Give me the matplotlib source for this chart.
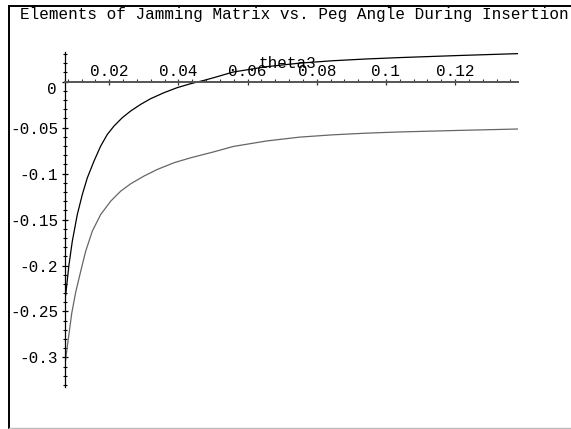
import matplotlib
matplotlib.use('Agg')
from matplotlib import pyplot as plt
from matplotlib.lines import Line2D
from matplotlib.ticker import MultipleLocator, FixedLocator, FixedFormatter

# Values.
theta_upper: list[float] = [0.00705, 0.00740, 0.00835, 0.00931, 0.01075, 0.01220, 0.01365,
                            0.01558, 0.01752, 0.01943, 0.02136, 0.02376, 0.02619, 0.02908,
                            0.03197, 0.03582, 0.03966, 0.04354, 0.04738, 0.05028, 0.05585,
                            0.06551, 0.07514, 0.08476, 0.09442, 0.10405, 0.12140, 0.13825]
elem_upper: list[float] = [-0.2386, -0.2317, -0.1990, -0.1735, -0.1446, -0.1228, -0.1046,
                           -0.0864, -0.0700, -0.0574, -0.0483, -0.0392, -0.0319, -0.0247,
                           -0.0185, -0.0120, -0.0065, -0.0022, 0.0014, 0.0044, 0.0105,
                           0.0163, 0.0202, 0.0228, 0.0247, 0.0262, 0.0285, 0.0305]

theta_lower: list[float] = [0.00705, 0.00711, 0.00786, 0.00914, 0.01029, 0.01174, 0.01318,
                            0.01509, 0.01752, 0.02041, 0.02330, 0.02619, 0.03004, 0.03388,
                            0.03871, 0.04354, 0.05028, 0.05585, 0.06551, 0.07514, 0.08476,
                            0.09442, 0.10405, 0.12140, 0.13825]
elem_lower: list[float] = [-0.3181, -0.3101, -0.2883, -0.2520, -0.2290, -0.2062, -0.1844,
                           -0.1626, -0.1445, -0.1300, -0.1191, -0.1111, -0.1027, -0.0955,
                           -0.0882, -0.0828, -0.0763, -0.0705, -0.0645, -0.0603, -0.0578,
                           -0.0560, -0.0547, -0.0530, -0.0515]

x_ticks: list[float] = [0.02, 0.04, 0.06, 0.08, 0.1, 0.12]
x_labels: list[str] = ['0.02', '0.04', '0.06', '0.08', '0.1', '0.12']
y_ticks: list[float] = [-0.3, -0.25, -0.2, -0.15, -0.1, -0.05, 0.0]
y_labels: list[str] = ['-0.3', '-0.25', '-0.2', '-0.15', '-0.1', '-0.05', '']

title: str = 'Elements of Jamming Matrix vs. Peg Angle During Insertion'
x_name: str = 'theta3'

mono: str = 'Liberation Mono'
W, H = 571, 429

fig = plt.figure(figsize=(W / 100, H / 100), dpi=100)
ax = fig.add_axes([64.5 / W, 1 - 387.3 / H, (518 - 64.5) / W, (387.3 - 51.7) / H])

ax.plot(theta_upper, elem_upper, color='black', lw=0.9)
ax.plot(theta_lower, elem_lower, color='#666666', lw=0.9)

ax.set_xlim(0.00705, 0.1382)
ax.set_ylim(-0.3325, 0.0326)

# Maple-style axes: x axis through zero, labels above it.
ax.spines['right'].set_visible(False)
ax.spines['bottom'].set_visible(False)
ax.spines['top'].set_position(('data', 0))
ax.spines['top'].set_color('#555555')
ax.spines['top'].set_linewidth(1.4)
ax.spines['left'].set_linewidth(0.9)
ax.xaxis.tick_top()

ax.xaxis.set_major_locator(FixedLocator(x_ticks))
ax.xaxis.set_major_formatter(FixedFormatter(x_labels))
ax.xaxis.set_minor_locator(MultipleLocator(0.004))
ax.yaxis.set_major_locator(FixedLocator(y_ticks))
ax.yaxis.set_major_formatter(FixedFormatter(y_labels))
ax.yaxis.set_minor_locator(MultipleLocator(0.01))

ax.tick_params(axis='x', which='major', direction='inout', length=4, width=0.9, pad=0,
               labelsize=11.5, color='#333333')
ax.tick_params(axis='x', which='minor', direction='out', length=2.5, width=0.8, color='#333333')
ax.tick_params(axis='y', which='major', direction='inout', length=5, width=0.9, pad=2,
               labelsize=11.5)
ax.tick_params(axis='y', which='minor', direction='inout', length=3, width=0.8)
for lab in ax.get_xticklabels() + ax.get_yticklabels():
    lab.set_family(mono)

fig.text(57 / W, 1 - 89 / H, '0', ha='right', va='center', family=mono, fontsize=11.5)
fig.text(259 / W, 1 - 68.3 / H, x_name, ha='left', va='baseline', family=mono, fontsize=11.5)
fig.text(20 / W, 1 - 18.5 / H, title, ha='left', va='baseline', family=mono, fontsize=11.5)

# Frame lines around the plot window.
fig.add_artist(Line2D([8.5 / W, 1], [1 - 5.5 / H, 1 - 5.5 / H], color='black', lw=1.4))
fig.add_artist(Line2D([8.5 / W, 8.5 / W], [0, 1 - 5.5 / H], color='black', lw=1.4))
fig.add_artist(Line2D([8.5 / W, 1], [1 - 427.5 / H, 1 - 427.5 / H], color='#bbbbbb', lw=1.0))

fig.savefig('out.png', dpi=100)
